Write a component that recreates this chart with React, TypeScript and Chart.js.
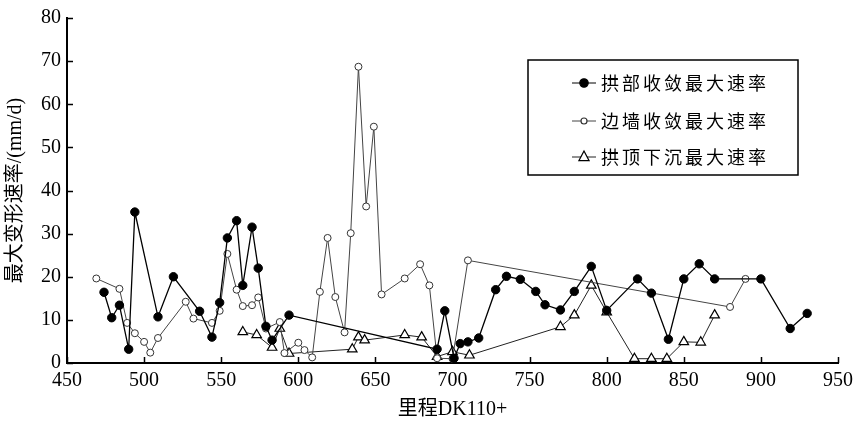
import React, { useEffect, useRef } from "react";
import { Chart, registerables } from "chart.js";
Chart.register(...registerables);

// X: 里程 DK110+ ; Y: 最大变形速率 (mm/d)
const archX = [474, 479, 484, 490, 494, 509, 519, 536, 544, 549, 554, 560, 564, 570, 574, 579, 583, 594, 690, 695, 701, 705, 710, 717, 728, 735, 744, 754, 760, 770, 779, 790, 800, 820, 829, 840, 850, 860, 870, 900, 919, 930];
const archY = [16.4, 10.5, 13.4, 3.2, 35, 10.7, 20, 12, 6, 14, 29, 33, 18, 31.5, 22, 8.5, 5.3, 11.1, 3.2, 12.1, 1.1, 4.5, 4.9, 5.8, 17, 20.1, 19.4, 16.6, 13.5, 12.3, 16.6, 22.4, 12.2, 19.5, 16.2, 5.5, 19.5, 23, 19.5, 19.5, 8, 11.5];

const wallX = [469, 484, 489, 494, 500, 504, 509, 527, 532, 544, 549, 554, 560, 564, 570, 574, 579, 588, 591, 600, 604, 609, 614, 619, 624, 630, 634, 639, 644, 649, 654, 669, 679, 685, 690, 700, 710, 880, 890];
const wallY = [19.6, 17.2, 9.3, 6.9, 4.9, 2.4, 5.8, 14.2, 10.3, 9.3, 12.1, 25.3, 17, 13.2, 13.4, 15.2, 8, 9.5, 2.3, 4.7, 3, 1.3, 16.5, 29, 15.3, 7.1, 30.1, 68.7, 36.3, 54.8, 15.9, 19.6, 22.9, 18, 1.1, 1, 23.8, 13, 19.5];

const crownX = [564, 573, 583, 588, 594, 635, 639, 643, 669, 680, 690, 700, 711, 770, 779, 790, 800, 818, 829, 839, 850, 861, 870];
const crownY = [7.2, 6.5, 3.6, 8.0, 2.2, 3.2, 6.0, 5.3, 6.5, 6.0, 1.5, 2.6, 1.8, 8.4, 11.1, 18, 11.8, 1.0, 1.0, 1.0, 4.9, 4.8, 11.1];

const seriesNames = ["拱部收敛最大速率", "边墙收敛最大速率", "拱顶下沉最大速率"];
const xTitle = "里程DK110+";
const yTitle = "最大变形速率/(mm/d)";
const xMin = 450, xMax = 950, xStep = 50;
const yMin = 0, yMax = 80, yStep = 10;

const toPoints = (xs: number[], ys: number[]) => xs.map((x, i) => ({ x, y: ys[i] }));

const SERIF = '"Liberation Serif", "Noto Sans CJK SC", serif';

const tickMarks = {
  id: "tickMarks",
  afterDatasetsDraw(chart: any) {
    const { ctx, chartArea, scales } = chart;
    ctx.save();
    ctx.strokeStyle = "#000";
    ctx.lineWidth = 1.5;
    ctx.beginPath();
    scales.x.ticks.forEach((t: any) => {
      const px = Math.round(scales.x.getPixelForValue(t.value)) + 0.5;
      ctx.moveTo(px, chartArea.bottom);
      ctx.lineTo(px, chartArea.bottom - 6);
    });
    scales.y.ticks.forEach((t: any) => {
      const py = Math.round(scales.y.getPixelForValue(t.value)) + 0.5;
      ctx.moveTo(chartArea.left, py);
      ctx.lineTo(chartArea.left + 6, py);
    });
    ctx.stroke();
    ctx.restore();
  },
};

const boxLegend = {
  id: "boxLegend",
  afterDraw(chart: any) {
    const { ctx } = chart;
    const bx = 528, by = 60, bw = 270, bh = 115;
    ctx.save();
    ctx.fillStyle = "#fff";
    ctx.fillRect(bx, by, bw, bh);
    ctx.strokeStyle = "#000";
    ctx.lineWidth = 1.5;
    ctx.strokeRect(bx, by, bw, bh);
    const rows = [83, 121, 157];
    chart.data.datasets.forEach((ds: any, i: number) => {
      const y = rows[i];
      ctx.strokeStyle = ds.borderColor;
      ctx.lineWidth = 1;
      ctx.beginPath();
      ctx.moveTo(572, y);
      ctx.lineTo(596, y);
      ctx.stroke();
      const cx = 584;
      ctx.fillStyle = ds.pointBackgroundColor;
      ctx.strokeStyle = ds.pointBorderColor;
      ctx.lineWidth = 1.2;
      ctx.beginPath();
      if (ds.pointStyle === "triangle") {
        const r = 6;
        ctx.moveTo(cx, y - r);
        ctx.lineTo(cx + r * 0.85, y + r * 0.6);
        ctx.lineTo(cx - r * 0.85, y + r * 0.6);
        ctx.closePath();
      } else {
        const r = i === 0 ? 4.2 : 3;
        ctx.arc(cx, y, r, 0, Math.PI * 2);
      }
      ctx.fill();
      ctx.stroke();
      ctx.fillStyle = "#000";
      ctx.font = '18px "Noto Sans CJK SC", sans-serif';
      (ctx as any).letterSpacing = "3px";
      ctx.textAlign = "left";
      ctx.textBaseline = "middle";
      ctx.fillText(ds.label, 601, y);
    });
    ctx.restore();
  },
};

export default function App() {
  const ref = useRef<HTMLCanvasElement>(null);
  useEffect(() => {
    if (!ref.current) return;
    const chart = new Chart(ref.current, {
      type: "line",
      data: {
        datasets: [
          {
            label: seriesNames[0],
            data: toPoints(archX, archY),
            borderColor: "#000",
            borderWidth: 1.3,
            pointStyle: "circle",
            pointRadius: 4.2,
            pointBackgroundColor: "#000",
            pointBorderColor: "#000",
            pointBorderWidth: 1,
            tension: 0,
          },
          {
            label: seriesNames[1],
            data: toPoints(wallX, wallY),
            borderColor: "#444",
            borderWidth: 1,
            pointStyle: "circle",
            pointRadius: 3.5,
            pointBackgroundColor: "#fff",
            pointBorderColor: "#333",
            pointBorderWidth: 1,
            tension: 0,
          },
          {
            label: seriesNames[2],
            data: toPoints(crownX, crownY),
            borderColor: "#222",
            borderWidth: 1,
            pointStyle: "triangle",
            pointRadius: 5.5,
            pointBackgroundColor: "#fff",
            pointBorderColor: "#000",
            pointBorderWidth: 1.2,
            tension: 0,
          },
        ],
      },
      options: {
        responsive: false,
        animation: false,
        layout: { padding: { top: 17, right: 17, left: 0, bottom: 0 } },
        plugins: { legend: { display: false }, tooltip: { enabled: false } },
        scales: {
          x: {
            type: "linear",
            min: xMin,
            max: xMax,
            border: { display: true, color: "#000", width: 2 },
            grid: { display: true, drawOnChartArea: false, drawTicks: false },
            ticks: {
              stepSize: xStep,
              color: "#000",
              font: { family: SERIF, size: 20 },
              padding: 6,
              maxRotation: 0,
              autoSkip: false,
            },
            title: {
              display: true,
              text: xTitle,
              color: "#000",
              font: { family: SERIF, size: 20 },
              padding: { bottom: 2 },
            },
            afterFit(s: any) {
              s.height = 61;
            },
          },
          y: {
            type: "linear",
            min: yMin,
            max: yMax,
            border: { display: true, color: "#000", width: 2 },
            grid: { display: true, drawOnChartArea: false, drawTicks: false },
            ticks: {
              stepSize: yStep,
              color: "#000",
              font: { family: SERIF, size: 20 },
              padding: 6,
            },
            title: {
              display: true,
              text: yTitle,
              color: "#000",
              font: { family: SERIF, size: 20 },
              padding: { top: 4 },
            },
            afterFit(s: any) {
              s.width = 67;
            },
          },
        },
      },
      plugins: [tickMarks, boxLegend],
    } as any);
    return () => chart.destroy();
  }, []);
  return (
    <div style={{ position: "fixed", left: 0, top: 0, width: 859, height: 424, background: "#fff" }}>
      <canvas ref={ref} width={859} height={424} style={{ display: "block" }} />
    </div>
  );
}
